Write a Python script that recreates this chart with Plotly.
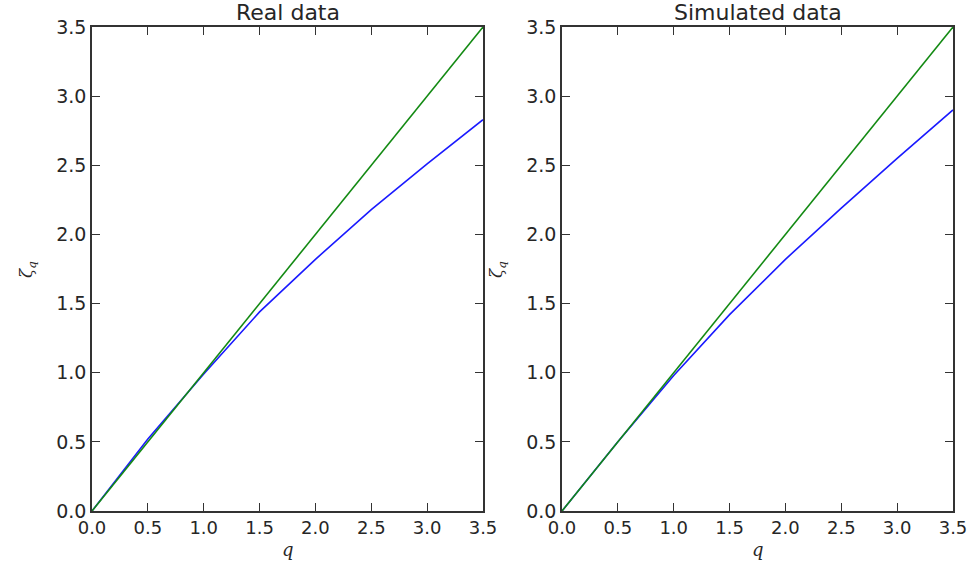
import plotly.graph_objects as go

q = [0.0, 0.5, 1.0, 1.5, 2.0, 2.5, 3.0, 3.5]
zeta_real = [0.0, 0.52, 0.99, 1.44, 1.82, 2.18, 2.51, 2.83]
zeta_sim = [0.0, 0.50, 0.98, 1.42, 1.82, 2.19, 2.55, 2.90]
linear_ref = [0.0, 0.5, 1.0, 1.5, 2.0, 2.5, 3.0, 3.5]
tick_vals = [0.0, 0.5, 1.0, 1.5, 2.0, 2.5, 3.0, 3.5]
tick_text = ["0.0", "0.5", "1.0", "1.5", "2.0", "2.5", "3.0", "3.5"]
titles = ["Real data", "Simulated data"]

BLUE = "#1a1aff"
GREEN = "#138a13"
TXT = "#262626"
FONT = "DejaVu Sans"

fig = go.Figure()
for i, ys in enumerate([zeta_real, zeta_sim]):
    xa = "x" if i == 0 else "x2"
    ya = "y" if i == 0 else "y2"
    fig.add_trace(go.Scatter(x=q, y=ys, mode="lines", line=dict(color=BLUE, width=1.6),
                             xaxis=xa, yaxis=ya, showlegend=False, hoverinfo="skip"))
    fig.add_trace(go.Scatter(x=q, y=linear_ref, mode="lines", line=dict(color=GREEN, width=1.6),
                             xaxis=xa, yaxis=ya, showlegend=False, hoverinfo="skip"))

W, H = 968, 562
ML, MR, MT, MB = 92, 15, 27, 51
PW = W - ML - MR
PH = H - MT - MB
dom_x = [[0, (483 - ML) / PW], [(562 - ML) / PW, 1]]
dom_y = [0, 1]

def axis(domain, anchor, size):
    return dict(domain=domain, anchor=anchor, range=[0, 3.5], tickvals=tick_vals, ticktext=tick_text,
                ticks="inside", ticklen=8, tickwidth=1, tickcolor="#333", mirror="allticks",
                showline=True, linecolor="#333", linewidth=1.5, showgrid=False, zeroline=False,
                automargin=False,
                tickfont=dict(family=FONT, size=size, color=TXT), fixedrange=True)

fig.update_layout(
    width=W, height=H, margin=dict(l=ML, r=MR, t=MT, b=MB, autoexpand=False),
    paper_bgcolor="white", plot_bgcolor="white",
    xaxis=axis(dom_x[0], "y", 18), yaxis=axis(dom_y, "x", 19),
    xaxis2=axis(dom_x[1], "y2", 18), yaxis2=axis(dom_y, "x2", 19),
)

def px(xp):
    return (xp - ML) / PW

def py(yp):
    return (H - MB - yp) / PH

annotations = []
centers = [(92 + 483) / 2, (562 + 953) / 2]
for i in range(2):
    cx = centers[i]
    annotations.append(dict(text=titles[i], x=px(cx), y=py(13), xref="paper", yref="paper",
                            showarrow=False, font=dict(family=FONT, size=22, color=TXT),
                            xanchor="center", yanchor="middle"))
    annotations.append(dict(text="<i>q</i>", x=px(cx), y=py(549), xref="paper", yref="paper",
                            showarrow=False, font=dict(family="DejaVu Serif", size=18, color=TXT),
                            xanchor="center", yanchor="middle"))
    lx = [27, 497][i]
    annotations.append(dict(text="<i>ζ</i><sub><i>q</i></sub>", x=px(lx), y=py(270), xref="paper", yref="paper",
                            showarrow=False, textangle=-90, font=dict(family="DejaVu Serif", size=17, color=TXT),
                            xanchor="center", yanchor="middle"))
fig.update_layout(annotations=annotations)

fig.write_html("out.html", config={"displayModeBar": False},
               post_script="document.body.style.margin='0px';document.body.style.padding='0px';")
